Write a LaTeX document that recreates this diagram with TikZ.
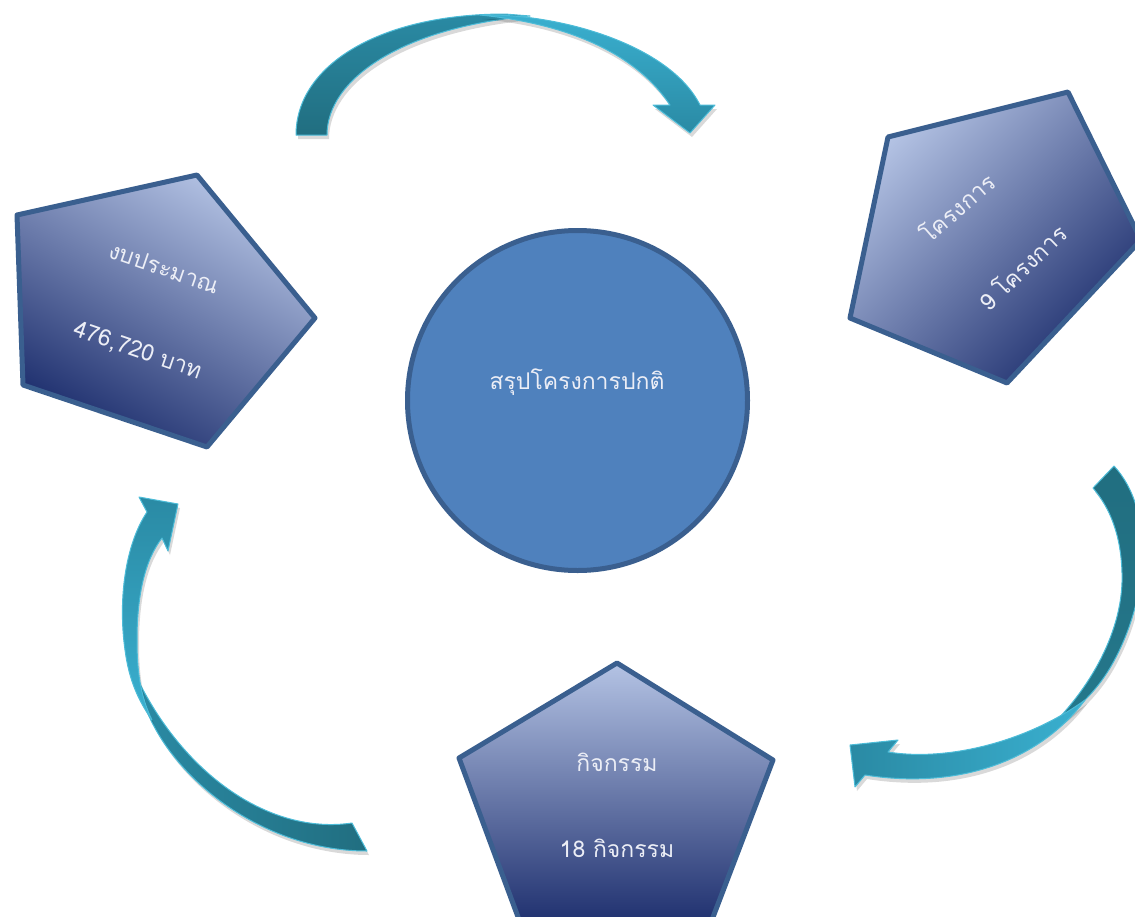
\documentclass[tikz,border=0pt]{standalone}
\usepackage{fontspec}
\newfontfamily\thaifont[Script=Thai]{Loma}
\usetikzlibrary{shadows}
\definecolor{pentline}{HTML}{3A5F8F}
\definecolor{pentlight}{HTML}{B4C3E4}
\definecolor{pentmid}{HTML}{5A6DA9}
\definecolor{pentdark}{HTML}{1E2F6E}
\definecolor{hubfill}{HTML}{4F81BD}
\definecolor{hubline}{HTML}{3A5F8F}
\definecolor{tealdark}{HTML}{216E80}
\definecolor{tealmid}{HTML}{2A8AA4}
\definecolor{teallight}{HTML}{3AB0D0}
\definecolor{tealedge}{HTML}{4DBCD8}
\definecolor{txtwhite}{HTML}{ECEEF6}
\tikzset{
  pent/.style={draw=pentline, line width=5pt, line join=round,
    top color=pentlight, middle color=pentmid, bottom color=pentdark},
  band/.style={draw=tealedge, line width=1pt, line join=round,
    drop shadow={shadow xshift=2pt, shadow yshift=-4pt, opacity=0.15, fill=black}},
  txt/.style={text=txtwhite, font=\thaifont\fontsize{23}{27}\selectfont, inner sep=0pt},
}
\begin{document}
\begin{tikzpicture}[x=1pt,y=-1pt]
\useasboundingbox (0,0) rectangle (1135,916);
\begin{scope}
\clip (0,0) rectangle (1135,916);
% top arrow
\shadedraw[band, top color=tealmid, bottom color=tealdark]
  (296,135) .. controls (296,65) and (380,14) .. (505,14) -- (530,16)
  .. controls (400,28) and (327,80) .. (327,135) -- cycle;
\shadedraw[band, top color=teallight, bottom color=tealmid]
  (480,15) .. controls (560,13) and (670,45) .. (700,105) -- (715,105) -- (690,133)
  -- (653,105) -- (670,105) .. controls (640,60) and (580,25) .. (480,15) -- cycle;
% right arrow
\shadedraw[band, top color=tealdark, bottom color=tealdark!85!teallight]
  (1093,488) -- (1114,466) .. controls (1155,510) and (1150,600) .. (1110,668)
  .. controls (1095,693) and (1075,712) .. (1045,732)
  .. controls (1090,690) and (1124,630) .. (1122,573)
  .. controls (1121,535) and (1110,508) .. (1093,488) -- cycle;
\shadedraw[band, left color=tealmid, right color=teallight]
  (1085,700) .. controls (1040,760) and (960,790) .. (865,775) -- (855,787)
  -- (850,745) -- (898,740) -- (888,752)
  .. controls (950,762) and (1030,740) .. (1085,700) -- cycle;
% left arrow
\shadedraw[band, left color=tealmid, right color=tealdark]
  (138,680) .. controls (150,760) and (250,851) .. (367,851) -- (352,823)
  .. controls (270,835) and (185,775) .. (138,680) -- cycle;
\shadedraw[band, top color=tealmid, bottom color=teallight]
  (147,512) -- (139,497) -- (178,504) -- (168,551) -- (162,538)
  .. controls (145,560) and (137,595) .. (137,640)
  .. controls (137,670) and (140,695) .. (152,720)
  .. controls (138,700) and (129,680) .. (125,650)
  .. controls (118,600) and (125,545) .. (147,512) -- cycle;
% pentagons
\shadedraw[pent, shading angle=-30] (17,215) -- (197,175) -- (315,318) -- (207,447) -- (23,385) -- cycle;
\shadedraw[pent, shading angle=45] (888,137) -- (1068,92) -- (1141,240) -- (1007,383) -- (850,318) -- cycle;
\shadedraw[pent] (617,663) -- (773,760) -- (710,925) -- (521,925) -- (459,758) -- cycle;
\end{scope}
% hub
\node[circle, draw=hubline, fill=hubfill, line width=5pt, minimum size=340pt, inner sep=0pt] (hub) at (577.5,400.5) {};
\node[txt] (hubtext) at (577,382) {สรุปโครงการปกติ};
% labels
\node[txt, rotate=-19] (budget) at (164,268) {งบประมาณ};
\node[txt, rotate=-19] (amount) at (138,351) {476,720 บาท};
\node[txt, rotate=41] (proj) at (957,207) {โครงการ};
\node[txt, rotate=44] (projn) at (1022,267) {9 โครงการ};
\node[txt] (act) at (617,762) {กิจกรรม};
\node[txt] (actn) at (617,848) {18 กิจกรรม};
\end{tikzpicture}
\end{document}
